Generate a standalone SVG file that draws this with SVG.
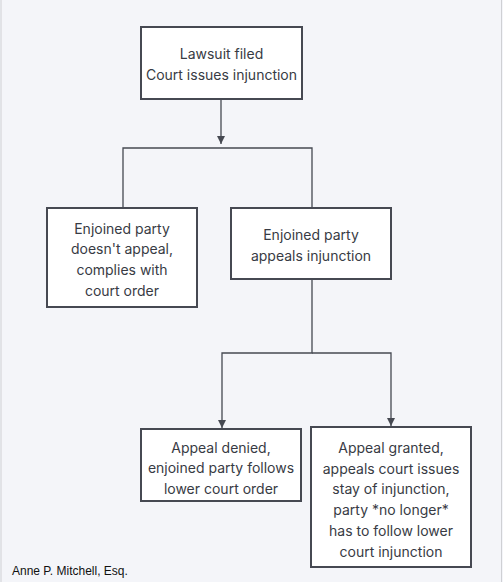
<svg xmlns="http://www.w3.org/2000/svg" width="503" height="582" viewBox="0 0 503 582">
<style>
.box{fill:#ffffff;stroke:#464952;stroke-width:2}
.t{font-family:Inter,"Liberation Sans",sans-serif;font-size:14px;fill:#383b44;text-anchor:middle;dominant-baseline:central}
.ln{fill:none;stroke:#464952;stroke-width:1.3}
</style>
<defs>
<marker id="ah" markerWidth="10" markerHeight="10" refX="8" refY="5" orient="auto" markerUnits="userSpaceOnUse">
<path d="M0,1 L8,5 L0,9 Z" fill="#464952"/>
</marker>
</defs>
<rect x="0" y="0" width="503" height="582" fill="#f4f5f9"/>
<line x1="1" y1="0" x2="1" y2="582" stroke="#cfd0d4" stroke-width="1"/>
<line x1="501.5" y1="0" x2="501.5" y2="582" stroke="#cfd0d4" stroke-width="1"/>
<g id="connectors">
<path class="ln" d="M221,100 V144" marker-end="url(#ah)"/>
<path class="ln" d="M123,208 V148 H312 V208"/>
<path class="ln" d="M312,279 V353 H222 V428" marker-end="url(#ah)"/>
<path class="ln" d="M312,353 H391 V426" marker-end="url(#ah)"/>
</g>
<g id="n1">
<rect class="box" x="141" y="27" width="161" height="72"/>
<text class="t" x="221.5" y="53">Lawsuit filed</text>
<text class="t" x="221.5" y="74">Court issues injunction</text>
</g>
<g id="n2">
<rect class="box" x="47" y="208" width="150" height="99"/>
<text class="t" x="122" y="228">Enjoined party</text>
<text class="t" x="122" y="248.5">doesn't appeal,</text>
<text class="t" x="122" y="269">complies with</text>
<text class="t" x="122" y="290">court order</text>
</g>
<g id="n3">
<rect class="box" x="231" y="208" width="160" height="71"/>
<text class="t" x="311" y="234">Enjoined party</text>
<text class="t" x="311" y="255">appeals injunction</text>
</g>
<g id="n4">
<rect class="box" x="141" y="429" width="160" height="72"/>
<text class="t" x="221" y="447">Appeal denied,</text>
<text class="t" x="221" y="467.5">enjoined party follows</text>
<text class="t" x="221" y="488">lower court order</text>
</g>
<g id="n5">
<rect class="box" x="311" y="427" width="160" height="140"/>
<text class="t" x="391" y="447">Appeal granted,</text>
<text class="t" x="391" y="468">appeals court issues</text>
<text class="t" x="391" y="488.5">stay of injunction,</text>
<text class="t" x="391" y="509.5">party *no longer*</text>
<text class="t" x="391" y="530">has to follow lower</text>
<text class="t" x="391" y="551">court injunction</text>
</g>
<text x="12" y="575" font-family="'Liberation Sans',Arial,sans-serif" font-size="12" fill="#111">Anne P. Mitchell, Esq.</text>
</svg>
